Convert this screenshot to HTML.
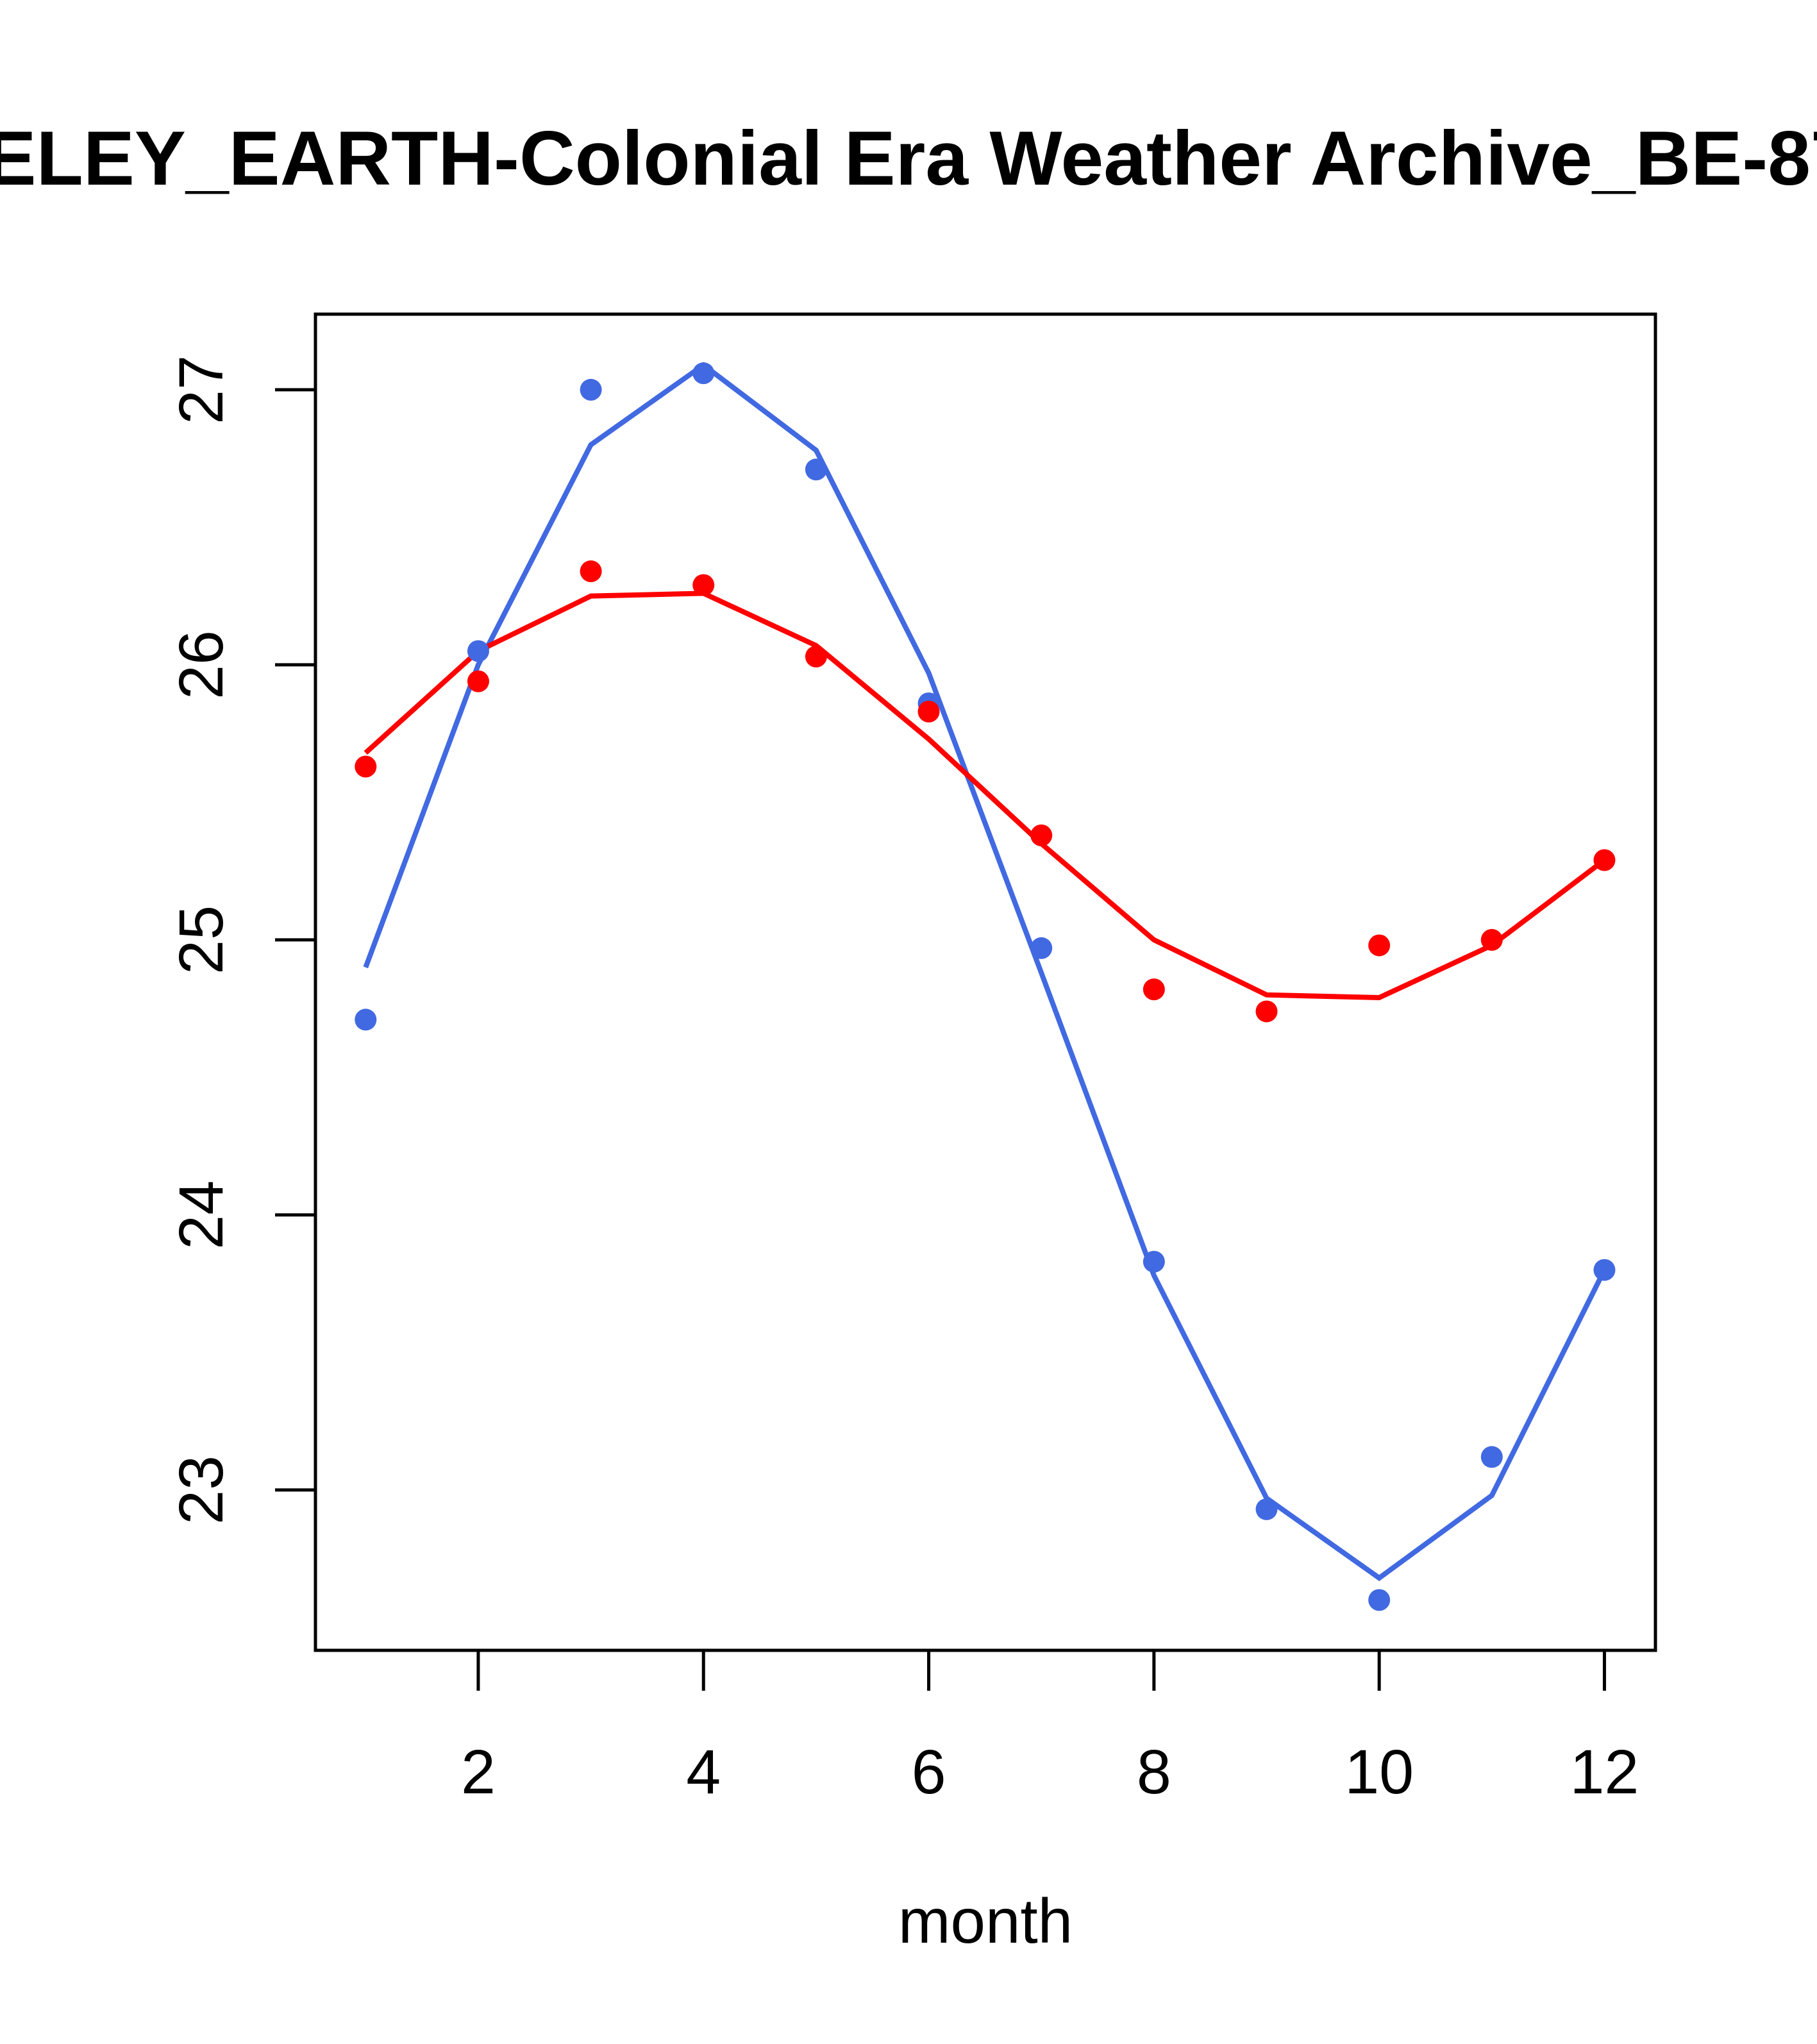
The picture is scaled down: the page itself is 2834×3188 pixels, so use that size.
<!DOCTYPE html>
<html><head><meta charset="utf-8"><style>
html,body{margin:0;padding:0;background:#fff;}
svg{display:block;font-family:"Liberation Sans",sans-serif;}
</style></head><body>
<svg id="chart" width="2834" height="3188" viewBox="0 0 2834 3188" xmlns="http://www.w3.org/2000/svg">
<rect width="2834" height="3188" fill="#fff"/>
<text x="1327" y="288" text-anchor="middle" font-size="120" font-weight="bold">BERKELEY_EARTH-Colonial Era Weather Archive_BE-8711</text>
<rect x="492" y="490" width="2090" height="2084" fill="none" stroke="#000" stroke-width="5"/>
<g id="axes"></g>
<g id="series"></g>
<text x="1537" y="3030" text-anchor="middle" font-size="98">month</text>
</svg>
<script>
const months = [1,2,3,4,5,6,7,8,9,10,11,12];
const bluePoints = [24.71,26.05,27.00,27.06,26.71,25.86,24.97,23.83,22.93,22.60,23.12,23.80];
const blueLine = [24.90,26.00,26.80,27.09,26.78,25.97,24.88,23.78,22.97,22.68,22.98,23.80];
const redPoints = [25.63,25.94,26.34,26.29,26.03,25.83,25.38,24.82,24.74,24.98,25.00,25.29];
const redLine = [25.68,26.05,26.25,26.26,26.07,25.73,25.35,25.00,24.80,24.79,24.98,25.29];
const xTicks = [2,4,6,8,10,12];
const yTicks = [23,24,25,26,27];

const NS = "http://www.w3.org/2000/svg";
function X(m){ return 570.3 + (m-1)*175.65; }
function Y(v){ return 607.9 + (27-v)*429.0; }
function mk(tag, attrs, parent){ const e=document.createElementNS(NS,tag); for(const k in attrs) e.setAttribute(k,attrs[k]); parent.appendChild(e); return e; }
const axes=document.getElementById('axes'), series=document.getElementById('series');
xTicks.forEach(t=>{
  const l=mk('line',{x1:X(t),x2:X(t),y1:2574,y2:2637,stroke:'#000','stroke-width':5},axes);
  
  
  const tx=mk('text',{x:X(t),y:2797,'text-anchor':'middle','font-size':97},axes);
  tx.textContent=t;
  
  
});
yTicks.forEach(t=>{
  const l=mk('line',{x1:429,x2:492,y1:Y(t),y2:Y(t),stroke:'#000','stroke-width':5},axes);
  
  
  const tx=mk('text',{x:0,y:0,'text-anchor':'middle','font-size':97,transform:`translate(347,${Y(t)}) rotate(-90)`},axes);
  tx.textContent=t;
  
  
});
function drawLine(vals,color,name){
  const p=mk('polyline',{points:vals.map((v,i)=>X(months[i])+','+Y(v)).join(' '),fill:'none',stroke:color,'stroke-width':8},series);
  
  
}
function drawPts(vals,color,name){
  vals.forEach((v,i)=>{
    const c=mk('circle',{cx:X(months[i]),cy:Y(v),r:17,fill:color},series);
    
    
  });
}
drawLine(blueLine,'#4169e1','blue-fit-line');
drawLine(redLine,'#ff0000','red-fit-line');
drawPts(bluePoints,'#4169e1','blue-point');
drawPts(redPoints,'#ff0000','red-point');
</script>
</body></html>
